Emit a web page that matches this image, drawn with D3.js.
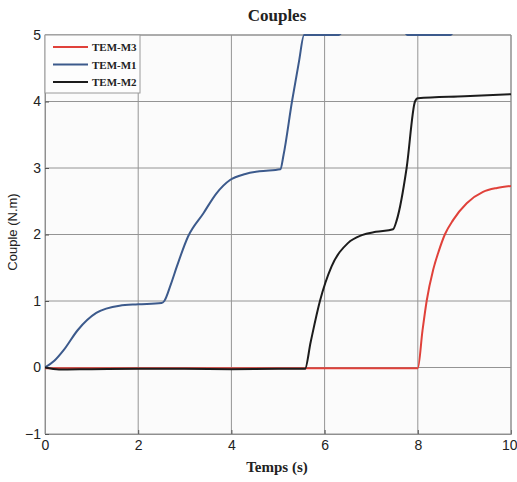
<!DOCTYPE html>
<html>
<head>
<meta charset="utf-8">
<script src="https://cdn.jsdelivr.net/npm/d3@7/dist/d3.min.js"></script>
<style>
  html, body { margin: 0; padding: 0; background: #ffffff; }
  svg { display: block; }
</style>
</head>
<body>
<svg id="chart" width="517" height="482"></svg>
<script>
// Electromagnetic torque of the three motors versus time
const xTicks = [0, 2, 4, 6, 8, 10];
const yTicks = [-1, 0, 1, 2, 3, 4, 5];
const seriesNames = ["TEM-M3", "TEM-M1", "TEM-M2"];
const seriesColors = ["#e0413a", "#3c5a8c", "#1c1c1c"];

// TEM-M3
const m3Time  = [0, 0.5, 1.5, 3, 4.5, 5.6, 7, 8.0, 8.1, 8.19, 8.33, 8.45, 8.58, 8.76, 9.05, 9.4, 9.7, 10];
const m3Value = [-0.01, -0.01, -0.01, -0.01, -0.01, -0.01, -0.01, -0.01, 0.55, 1.0, 1.47, 1.75, 2.0, 2.22, 2.47, 2.64, 2.7, 2.73];

// TEM-M1
const m1Time  = [0, 0.2, 0.4, 0.7, 1.1, 1.6, 2.0, 2.5, 2.56, 2.7, 2.83, 3.07, 3.4, 3.68, 3.97, 4.3, 4.6, 5.05, 5.12, 5.3, 5.45, 5.56, 6.3, 6.4, 7.7, 7.78, 8.7, 8.78, 10];
const m1Value = [0, 0.1, 0.26, 0.56, 0.82, 0.93, 0.95, 0.97, 1.0, 1.25, 1.52, 1.97, 2.32, 2.62, 2.82, 2.91, 2.95, 2.98, 3.2, 4.0, 4.6, 5.0, 5.0, 5.05, 5.05, 5.0, 5.0, 5.05, 5.05];

// TEM-M2
const m2Time  = [0, 0.3, 1.0, 2.0, 3.0, 4.0, 5.0, 5.58, 5.7, 5.9, 6.15, 6.5, 6.8, 7.1, 7.47, 7.55, 7.76, 7.94, 8.0, 9.0, 10];
const m2Value = [0, -0.03, -0.025, -0.02, -0.02, -0.025, -0.02, -0.02, 0.38, 1.0, 1.52, 1.87, 1.99, 2.04, 2.08, 2.22, 3.0, 4.0, 4.05, 4.08, 4.11];

const seriesData = [
  m3Time.map((t, i) => [t, m3Value[i]]),
  m1Time.map((t, i) => [t, m1Value[i]]),
  m2Time.map((t, i) => [t, m2Value[i]])
];

const svg = d3.select("#chart");
const plotLeft = 45, plotRight = 511, plotTop = 35, plotBottom = 434;

const x = d3.scaleLinear().domain([0, 10]).range([plotLeft, plotRight]);
const y = d3.scaleLinear().domain([-1, 5]).range([plotBottom, plotTop]);

// plot background
svg.append("rect")
  .attr("x", plotLeft).attr("y", plotTop)
  .attr("width", plotRight - plotLeft).attr("height", plotBottom - plotTop)
  .attr("fill", "#fbfbfb");

// grid
const grid = svg.append("g");
grid.selectAll("line.v").data(xTicks).join("line").attr("class", "v")
  .attr("x1", d => x(d)).attr("x2", d => x(d))
  .attr("y1", plotTop).attr("y2", plotBottom)
  .attr("stroke", "#949494").attr("stroke-width", 1);
grid.selectAll("line.h").data(yTicks).join("line").attr("class", "h")
  .attr("x1", plotLeft).attr("x2", plotRight)
  .attr("y1", d => y(d)).attr("y2", d => y(d))
  .attr("stroke", "#949494").attr("stroke-width", 1);

// axes
const xAxis = d3.axisBottom(x).tickValues(xTicks).tickSize(-4).tickPadding(6).tickFormat(d3.format("d"));
const yAxis = d3.axisLeft(y).tickValues(yTicks).tickSize(-4).tickPadding(6).tickFormat(d3.format("d"));

const gx = svg.append("g").attr("transform", `translate(0,${plotBottom})`).call(xAxis);
const gy = svg.append("g").attr("transform", `translate(${plotLeft},0)`).call(yAxis);
[gx, gy].forEach(g => {
  g.select(".domain").attr("stroke", "#8f8f8f");
  g.selectAll(".tick line").attr("stroke", "#555");
  g.selectAll(".tick text")
    .attr("font-family", "Liberation Sans, Arial, sans-serif")
    .attr("font-size", 14)
    .attr("fill", "#222");
});
gy.selectAll(".tick text").attr("dx", 2);
// keep the last x label inside the page
gx.selectAll(".tick text").filter(d => d === 10).attr("text-anchor", "end").attr("dx", 6);

// frame top and right
svg.append("line").attr("x1", plotLeft).attr("x2", plotRight).attr("y1", plotTop).attr("y2", plotTop)
  .attr("stroke", "#8f8f8f");
svg.append("line").attr("x1", plotRight).attr("x2", plotRight).attr("y1", plotTop).attr("y2", plotBottom)
  .attr("stroke", "#8f8f8f");

// curves
svg.append("clipPath").attr("id", "plotClip")
  .append("rect").attr("x", plotLeft).attr("y", plotTop - 1)
  .attr("width", plotRight - plotLeft).attr("height", plotBottom - plotTop + 1);

const line = d3.line().x(d => x(d[0])).y(d => y(d[1])).curve(d3.curveMonotoneX);
const curves = svg.append("g").attr("clip-path", "url(#plotClip)");
seriesData.forEach((data, i) => {
  curves.append("path")
    .datum(data)
    .attr("fill", "none")
    .attr("stroke", seriesColors[i])
    .attr("stroke-width", 2)
    .attr("stroke-linejoin", "round")
    .attr("d", line);
});

// legend
const legend = svg.append("g").attr("transform", `translate(${plotLeft},${plotTop})`);
legend.append("rect")
  .attr("x", 0).attr("y", 0).attr("width", 95).attr("height", 58)
  .attr("fill", "#fdfdfd").attr("stroke", "#9a9a9a").attr("stroke-width", 1);
seriesNames.forEach((name, i) => {
  const ly = 12 + i * 17.5;
  legend.append("line")
    .attr("x1", 8).attr("x2", 43).attr("y1", ly).attr("y2", ly)
    .attr("stroke", seriesColors[i]).attr("stroke-width", 2);
  legend.append("text")
    .attr("x", 47).attr("y", ly + 4)
    .attr("font-family", "Liberation Serif, Times New Roman, serif")
    .attr("font-weight", "bold")
    .attr("font-size", 11)
    .attr("fill", "#222")
    .text(name);
});

// titles
svg.append("text")
  .attr("x", 277).attr("y", 21)
  .attr("text-anchor", "middle")
  .attr("font-family", "Liberation Serif, Times New Roman, serif")
  .attr("font-weight", "bold").attr("font-size", 17).attr("fill", "#222")
  .text("Couples");

svg.append("text")
  .attr("x", 277).attr("y", 472)
  .attr("text-anchor", "middle")
  .attr("font-family", "Liberation Serif, Times New Roman, serif")
  .attr("font-weight", "bold").attr("font-size", 15).attr("fill", "#222")
  .text("Temps (s)");

svg.append("text")
  .attr("transform", "translate(17,232) rotate(-90)")
  .attr("text-anchor", "middle")
  .attr("font-family", "Liberation Sans, Arial, sans-serif")
  .attr("font-size", 13).attr("fill", "#222")
  .text("Couple (N.m)");
</script>
</body>
</html>
